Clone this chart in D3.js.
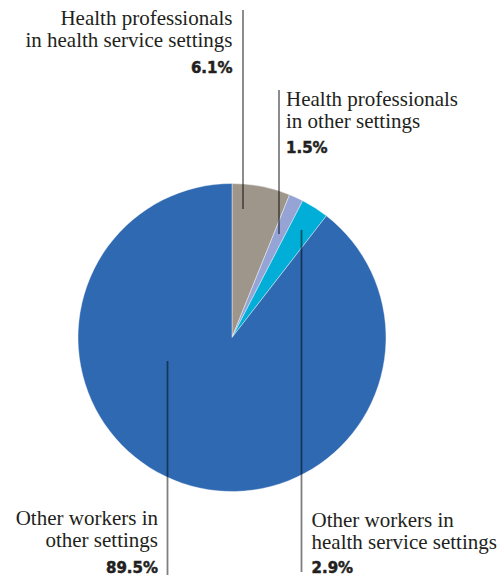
<!DOCTYPE html>
<html>
<head>
<meta charset="utf-8">
<script src="https://cdn.jsdelivr.net/npm/d3@7"></script>
<style>
  html, body { margin: 0; padding: 0; background: #fff; }
  svg { display: block; }
  .lbl { font-family: "Liberation Serif", "Times New Roman", serif; font-size: 21px; fill: #231f20; }
  .pct { font-family: "DejaVu Sans", sans-serif; font-weight: bold; font-size: 15px; fill: #231f20; stroke: #231f20; stroke-width: 0.5px; }
</style>
</head>
<body>
<svg id="chart" width="499" height="578"></svg>
<script>
// ---- data ----
const categories = [
  "Health professionals in health service settings",
  "Health professionals in other settings",
  "Other workers in health service settings",
  "Other workers in other settings"
];
const values = [6.1, 1.5, 2.9, 89.5];
const labelLines = [
  ["Health professionals", "in health service settings"],
  ["Health professionals", "in other settings"],
  ["Other workers in", "health service settings"],
  ["Other workers in", "other settings"]
];
const pctLabels = ["6.1%", "1.5%", "2.9%", "89.5%"];
const colors = ["#9f968b", "#95a4d5", "#00aed8", "#2f69b2"];

// ---- layout (label placement) ----
const cx = 232, cy = 337.5, radius = 154;
const labelLayout = [
  { anchor: "end",   x: 232.5, y: 25,  pctDy: 48, lineX: 243,   y1: 10,  y2: 209 },
  { anchor: "start", x: 286,   y: 106, pctDy: 47, lineX: 279,   y1: 90,  y2: 234 },
  { anchor: "start", x: 311.5, y: 527, pctDy: 46, lineX: 301.5, y1: 230, y2: 572 },
  { anchor: "end",   x: 158,   y: 525, pctDy: 48, lineX: 167.5, y1: 361, y2: 575 }
];

const svg = d3.select("#chart");
const data = categories.map((c, i) => ({ name: c, value: values[i], i }));

const pie = d3.pie().value(d => d.value).sort(null);
const arc = d3.arc().innerRadius(0).outerRadius(radius);

const g = svg.append("g").attr("transform", `translate(${cx},${cy})`);
g.selectAll("path")
  .data(pie(data))
  .join("path")
  .attr("d", arc)
  .attr("fill", d => colors[d.data.i])
  .attr("stroke", "#ffffff")
  .attr("stroke-width", 0.4);

// leader lines
svg.selectAll("line.leader")
  .data(labelLayout)
  .join("line")
  .attr("class", "leader")
  .attr("x1", d => d.lineX).attr("x2", d => d.lineX)
  .attr("y1", d => d.y1).attr("y2", d => d.y2)
  .attr("stroke", "#000")
  .attr("stroke-opacity", 0.5)
  .attr("stroke-width", 1.8);

// labels
labelLayout.forEach((L, i) => {
  const t = svg.append("text")
    .attr("class", "lbl")
    .attr("text-anchor", L.anchor)
    .attr("x", L.x).attr("y", L.y);
  labelLines[i].forEach((line, k) => {
    t.append("tspan").attr("x", L.x).attr("dy", k === 0 ? 0 : 22).text(line);
  });
  svg.append("text")
    .attr("class", "pct")
    .attr("text-anchor", L.anchor)
    .attr("x", L.x).attr("y", L.y + L.pctDy)
    .text(pctLabels[i]);
});
</script>
</body>
</html>
